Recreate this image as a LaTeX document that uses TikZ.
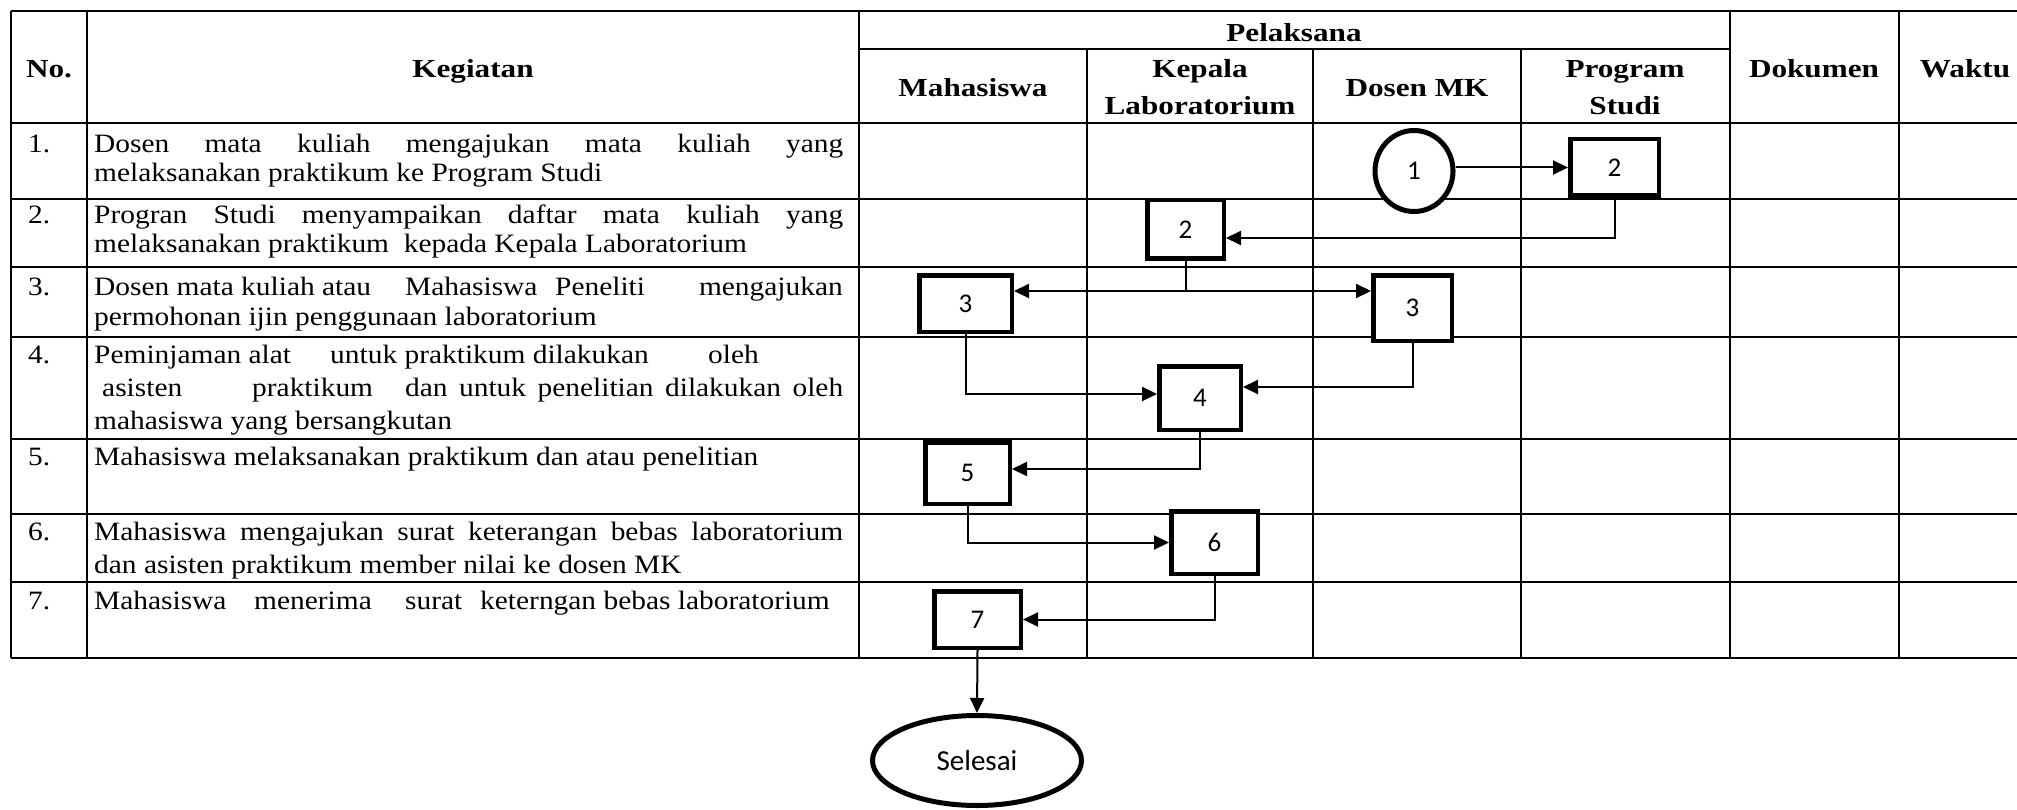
\documentclass[tikz,border=0pt]{standalone}
\usepackage{fontspec}
\setmainfont{Liberation Serif}[FakeStretch=1.2]
\newfontfamily\bodyfont{Liberation Serif}[FakeStretch=1.11]
\newfontfamily\calibfont{Carlito}
\usetikzlibrary{arrows.meta,calc,shapes.geometric}
\begin{document}
\begin{tikzpicture}[x=1pt,y=-1pt,
  grid/.style={line width=2.5pt},
  body/.style={inner sep=0pt, anchor=base west, font=\bodyfont\fontsize{26.5}{30}\selectfont},
  head/.style={inner sep=0pt, anchor=base, font=\fontsize{26}{31}\selectfont\bfseries},
  stepbox/.style={draw, fill=white, line width=4.5pt, inner sep=0pt, font=\calibfont\fontsize{27}{32}\selectfont},
  endshape/.style={draw, fill=white, ellipse, line width=5pt, inner sep=0pt},
  conn/.style={line width=2pt},
  arr/.style={conn, -{Triangle[length=15pt,width=14pt]}},
  dblarr/.style={conn, {Triangle[length=15pt,width=14pt]}-{Triangle[length=15pt,width=14pt]}},
]
\fill[white] (0,0) rectangle (2017,810);
\useasboundingbox (0,0) rectangle (2017,810);

% table grid
\draw[grid] (11,11) -- (2030,11);
\draw[grid] (859,49) -- (1730,49);
\foreach \yy in {123,199,267,337,439,514,582,658} {\draw[grid] (11,\yy) -- (2030,\yy);}
\foreach \xx in {11,87,859,1730,1899} {\draw[grid] (\xx,11) -- (\xx,658);}
\foreach \xx in {1087,1313,1521} {\draw[grid] (\xx,49) -- (\xx,658);}

% headers
\node[head] (hno) at (49,78) {No.};
\node[head] (hkeg) at (473,78) {Kegiatan};
\node[head] (hpel) at (1294,42) {Pelaksana};
\node[head] (hmhs) at (973,97) {Mahasiswa};
\node[head] (hkl1) at (1200,78) {Kepala};
\node[head] (hkl2) at (1200,115) {Laboratorium};
\node[head] (hdos) at (1417,97) {Dosen MK};
\node[head] (hps1) at (1625,78) {Program};
\node[head] (hps2) at (1625,115) {Studi};
\node[head] (hdok) at (1814,78) {Dokumen};
\node[head] (hwak) at (1965,78) {Waktu};

% row 1
\node[body] (n1) at (28,153) {1.};
\node[body] (t1a) at (94,153) {\makebox[749pt][s]{Dosen mata kuliah mengajukan mata kuliah yang}};
\node[body] (t1b) at (94,182) {melaksanakan praktikum ke Program Studi};
% row 2
\node[body] (n2) at (28,224) {2.};
\node[body] (t2a) at (94,224) {\makebox[749pt][s]{Progran Studi menyampaikan daftar mata kuliah yang}};
\node[body] (t2b) at (94,252) {melaksanakan praktikum\ \ kepada Kepala Laboratorium};
% row 3
\node[body] (n3) at (28,295) {3.};
\node[body] (t3a) at (94,295) {Dosen mata kuliah atau};
\node[body] (t3b) at (405,295) {Mahasiswa};
\node[body] (t3c) at (555,295) {Peneliti};
\node[body, anchor=base east] (t3d) at (843,295) {mengajukan};
\node[body] (t3e) at (94,325) {permohonan ijin penggunaan laboratorium};
% row 4
\node[body] (n4) at (28,363) {4.};
\node[body] (t4a) at (94,363) {Peminjaman alat};
\node[body] (t4b) at (330,363) {untuk praktikum dilakukan};
\node[body] (t4c) at (708,363) {oleh};
\node[body] (t4d) at (102,396) {asisten};
\node[body] (t4e) at (252,396) {praktikum};
\node[body] (t4f) at (405,396) {\makebox[438pt][s]{dan untuk penelitian dilakukan oleh}};
\node[body] (t4g) at (94,429) {mahasiswa yang bersangkutan};
% row 5
\node[body] (n5) at (28,465) {5.};
\node[body] (t5a) at (94,465) {Mahasiswa melaksanakan praktikum dan atau penelitian};
% row 6
\node[body] (n6) at (28,540) {6.};
\node[body] (t6a) at (94,540) {\makebox[749pt][s]{Mahasiswa mengajukan surat keterangan bebas laboratorium}};
\node[body] (t6b) at (94,573) {dan asisten praktikum member nilai ke dosen MK};
% row 7
\node[body] (n7) at (28,609) {7.};
\node[body] (t7a) at (94,609) {Mahasiswa};
\node[body] (t7b) at (254,609) {menerima};
\node[body] (t7c) at (405,609) {surat};
\node[body] (t7d) at (480,609) {keterngan bebas laboratorium};

% flow shapes
\node[endshape, minimum width=78pt, minimum height=81pt, font=\calibfont\fontsize{27}{32}\selectfont] (e1) at (1414,171) {1};
\node[stepbox, minimum width=88.5pt, minimum height=56.5pt] (b2ps) at (1614.5,167.5) {2};
\node[stepbox, minimum width=76.5pt, minimum height=58.5pt] (b2kl) at (1185.5,229.5) {2};
\node[stepbox, minimum width=92.5pt, minimum height=56.5pt] (b3m) at (965.5,303.5) {3};
\node[stepbox, minimum width=78.5pt, minimum height=65.5pt] (b3d) at (1412.5,308) {3};
\node[stepbox, minimum width=81.5pt, minimum height=63.5pt] (b4) at (1200,398) {4};
\node[stepbox, minimum width=84.5pt, minimum height=61.5pt] (b5) at (967.5,473) {5};
\node[stepbox, minimum width=86.5pt, minimum height=62.5pt] (b6) at (1214.5,542.5) {6};
\node[stepbox, minimum width=86.5pt, minimum height=56.5pt] (b7) at (977.5,619.5) {7};
\node[endshape, minimum width=209pt, minimum height=90pt, font=\calibfont\fontsize{29}{34}\selectfont] (sel) at (977,760.5) {Selesai};

% connectors
\coordinate (j3) at (1187,291);
\draw[arr] (e1.east |- b2ps.west) -- (b2ps.west);
\draw[arr] (b2ps.south) |- ($(b2kl.east)+(0,8.5)$);
\draw[conn] (b2kl.south) -- (b2kl.south |- j3);
\draw[dblarr] (b3m.east |- j3) -- (b3d.west |- j3);
\draw[arr] (b3m.south) |- ($(b4.west)+(0,-4)$);
\draw[arr] (b3d.south) |- ($(b4.east)+(0,-11)$);
\draw[arr] (b4.south) |- ($(b5.east)+(0,-4)$);
\draw[arr] (b5.south) |- (b6.west);
\draw[arr] (b6.south) |- (b7.east);
\draw[arr] (b7.south) -- (sel.north);
\end{tikzpicture}
\end{document}
